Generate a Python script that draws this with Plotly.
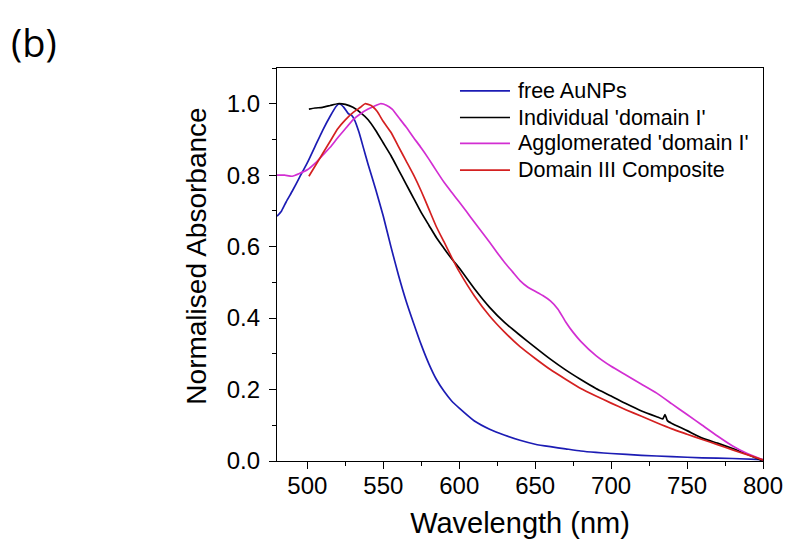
import plotly.graph_objects as go

# Normalised UV-vis spectra (wavelength in nm, absorbance scaled to peak = 1)
free_nm = [480, 483, 486, 490, 495, 500, 505, 510, 515, 519, 521, 524, 527, 529, 531, 534,
           537, 540, 545, 550, 555, 560, 565, 570, 575, 580, 585, 590, 595, 600, 610, 620,
           630, 640, 650, 660, 670, 680, 690, 700, 720, 740, 760, 780, 800]
free_abs = [0.685, 0.70, 0.725, 0.755, 0.795, 0.835, 0.88, 0.925, 0.965, 0.993, 1.0, 0.99,
            0.972, 0.968, 0.955, 0.92, 0.875, 0.83, 0.76, 0.685, 0.60, 0.52, 0.448, 0.385,
            0.325, 0.272, 0.228, 0.195, 0.168, 0.148, 0.112, 0.089, 0.072, 0.058, 0.047,
            0.040, 0.034, 0.028, 0.024, 0.021, 0.016, 0.012, 0.009, 0.007, 0.004]

indiv_nm = [501, 505, 510, 515, 520, 525, 530, 535, 540, 545, 550, 555, 560, 565, 570, 575,
            580, 585, 590, 595, 600, 610, 620, 630, 640, 650, 660, 670, 680, 690, 700, 710,
            720, 730, 734, 735.5, 737, 740, 750, 760, 770, 780, 790, 800]
indiv_abs = [0.985, 0.988, 0.99, 0.995, 1.0, 0.998, 0.99, 0.975, 0.955, 0.925, 0.89, 0.855,
             0.815, 0.775, 0.735, 0.695, 0.66, 0.625, 0.595, 0.566, 0.54, 0.482, 0.43, 0.387,
             0.352, 0.318, 0.285, 0.255, 0.228, 0.203, 0.182, 0.16, 0.14, 0.124, 0.118, 0.13,
             0.113, 0.105, 0.085, 0.064, 0.05, 0.035, 0.018, 0.0]

agglo_nm = [480, 485, 490, 495, 500, 505, 510, 515, 520, 525, 530, 535, 540, 545, 548, 552,
            556, 560, 565, 570, 575, 580, 585, 590, 595, 600, 605, 610, 615, 620, 625, 630,
            635, 640, 645, 650, 655, 660, 665, 670, 675, 680, 690, 700, 710, 720, 730, 740,
            750, 760, 770, 780, 790, 800]
agglo_abs = [0.80, 0.80, 0.797, 0.805, 0.815, 0.833, 0.855, 0.878, 0.905, 0.93, 0.955, 0.972,
             0.985, 0.995, 1.0, 0.996, 0.984, 0.962, 0.935, 0.905, 0.876, 0.845, 0.812, 0.78,
             0.752, 0.725, 0.697, 0.668, 0.64, 0.612, 0.583, 0.555, 0.53, 0.505, 0.487, 0.475,
             0.463, 0.448, 0.425, 0.39, 0.36, 0.335, 0.295, 0.265, 0.24, 0.215, 0.19, 0.16,
             0.13, 0.10, 0.07, 0.042, 0.02, 0.003]

dom3_nm = [501, 505, 510, 515, 520, 525, 530, 535, 538, 542, 546, 550, 555, 560, 565, 570,
           575, 580, 585, 590, 595, 600, 610, 620, 630, 640, 650, 660, 670, 680, 690, 700,
           710, 720, 730, 740, 750, 760, 770, 780, 790, 800]
dom3_abs = [0.797, 0.825, 0.86, 0.895, 0.93, 0.955, 0.975, 0.99, 1.0, 0.995, 0.978, 0.95,
            0.92, 0.88, 0.84, 0.80, 0.755, 0.705, 0.655, 0.613, 0.57, 0.53, 0.462, 0.406,
            0.36, 0.32, 0.287, 0.256, 0.229, 0.203, 0.182, 0.162, 0.143, 0.125, 0.107,
            0.09, 0.075, 0.06, 0.046, 0.031, 0.017, 0.003]

series = [
    ("free AuNPs", free_nm, free_abs, "#1c1cb4"),
    ("Individual 'domain I'", indiv_nm, indiv_abs, "#000000"),
    ("Agglomerated 'domain I'", agglo_nm, agglo_abs, "#d22ed2"),
    ("Domain III Composite", dom3_nm, dom3_abs, "#d42020"),
]

x_ticks = [500, 550, 600, 650, 700, 750, 800]
y_ticks = [0.0, 0.2, 0.4, 0.6, 0.8, 1.0]

fig = go.Figure()
for name, xs, ys, color in series:
    fig.add_trace(go.Scatter(x=xs, y=ys, mode="lines", name=name, showlegend=False,
                             line=dict(color=color, width=1.7, shape="spline", smoothing=0.5)))

# Key in the upper right of the plot box: a line sample and the series name per row
key_x0, key_x1, key_text_x = 0.3765, 0.4794, 0.4925
key_rows = [0.942, 0.874, 0.808, 0.74]
for (name, _, _, color), ky in zip(series, key_rows):
    fig.add_shape(type="line", xref="paper", yref="paper", x0=key_x0, x1=key_x1,
                  y0=ky, y1=ky, line=dict(color=color, width=1.7))
    fig.add_annotation(text=name, xref="paper", yref="paper", x=key_text_x, y=ky,
                       xanchor="left", yanchor="middle", showarrow=False,
                       font=dict(size=21.5, color="#000"))

axis_font = dict(family="Liberation Sans, Arial, sans-serif", size=24, color="#000")
fig.update_layout(
    width=787, height=545,
    margin=dict(l=277, r=24, t=68, b=84, autoexpand=False),
    paper_bgcolor="white", plot_bgcolor="white",
    font=dict(family="Liberation Sans, Arial, sans-serif", color="#000"),
    showlegend=False,
    xaxis=dict(range=[480, 800], tickvals=x_ticks, ticktext=[str(v) for v in x_ticks],
               showgrid=False, zeroline=False, showline=True, linecolor="#000",
               linewidth=1.3, mirror=True, ticks="outside", ticklen=7, tickwidth=1.3,
               tickcolor="#000", tickfont=axis_font, ticklabelstandoff=-4, automargin=False,
               minor=dict(dtick=25, tick0=475, ticks="outside", ticklen=4, tickwidth=1.2,
                          tickcolor="#000", showgrid=False),
               title=dict(text="Wavelength (nm)", font=dict(size=29), standoff=14)),
    yaxis=dict(range=[0, 1.1], tickvals=y_ticks, ticktext=[f"{v:.1f}" for v in y_ticks],
               showgrid=False, zeroline=False, showline=True, linecolor="#000",
               linewidth=1.3, mirror=True, ticks="outside", ticklen=7, tickwidth=1.3,
               tickcolor="#000", tickfont=axis_font, ticklabelstandoff=4, automargin=False,
               minor=dict(dtick=0.1, tick0=0, ticks="outside", ticklen=4, tickwidth=1.2,
                          tickcolor="#000", showgrid=False)),
)

fig.add_annotation(text="Normalised Absorbance", xref="paper", yref="paper",
                   x=-0.1646, y=0.52, textangle=-90, showarrow=False,
                   xanchor="center", yanchor="middle",
                   font=dict(size=28, color="#000"))

fig.add_annotation(text="(b)", xref="paper", yref="paper", x=-0.552, y=1.066,
                   xanchor="left", yanchor="middle", showarrow=False,
                   font=dict(family="Open Sans, Liberation Sans, sans-serif", size=38, color="#000"))

fig.write_html("out.html")
